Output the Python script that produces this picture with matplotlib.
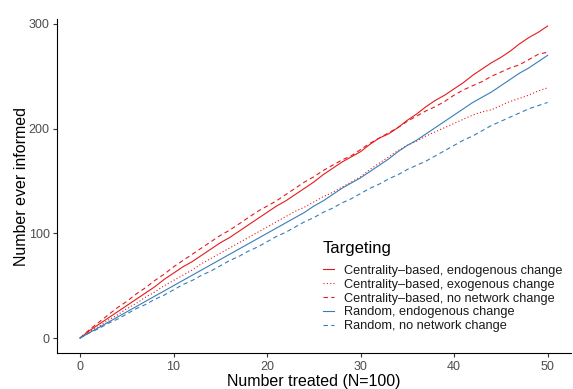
import matplotlib
matplotlib.use("Agg")
import matplotlib.pyplot as plt
import numpy as np

plt.rcParams['font.family'] = ['Liberation Sans', 'DejaVu Sans']

x = list(range(0, 51))
cent_endo = [0,7,13,19,25,31,37,43,49,56,62,68,73,79,85,91,96,102,108,114,120,126,131,137,143,149,
             156,162,168,173,178,185,191,195,201,208,214,221,227,232,238,244,251,257,263,268,274,281,287,292,298]
cent_exo = [0,6,11,17,22,28,33,39,44,50,55,60,65,71,76,81,86,91,96,101,106,111,116,121,125,130,
            135,139,144,149,154,161,167,173,179,184,188,193,197,201,205,209,213,216,218,222,226,229,232,236,239]
cent_none = [0,8,15,22,29,35,42,48,55,61,68,74,80,86,92,98,103,109,115,121,126,131,137,143,149,154,
             160,165,170,174,180,186,191,196,201,207,212,217,221,226,232,237,241,245,250,254,258,261,266,271,273]
rand_endo = [0,5,10,15,20,25,30,35,40,45,50,55,60,65,70,75,80,85,90,95,100,105,110,115,120,126,
             131,137,143,148,153,159,165,171,178,184,189,195,201,207,213,219,225,230,235,241,247,253,258,264,270]
rand_none = [0,5,9,14,18,23,28,32,37,41,46,51,55,60,64,69,74,78,83,87,92,97,101,106,111,115,
             120,124,129,133,138,143,147,152,156,161,165,169,174,179,184,189,193,198,203,207,211,215,219,222,225]

labels = ["Centrality\u2013based, endogenous change",
          "Centrality\u2013based, exogenous change",
          "Centrality\u2013based, no network change",
          "Random, endogenous change",
          "Random, no network change"]

red = "#E41A1C"
blue = "#377EB8"

fig = plt.figure(figsize=(5.73, 3.89), dpi=100)
ax = fig.add_axes([57.3/573, 1 - 353/389, (571 - 57.3)/573, (353 - 19)/389])

lw = 0.8
ax.plot(x, cent_endo, color=red, lw=lw, ls='-', label=labels[0])
ax.plot(x, cent_exo, color=red, lw=lw, ls=(0, (1, 2)), label=labels[1])
ax.plot(x, cent_none, color=red, lw=lw, ls=(0, (4, 3)), label=labels[2])
ax.plot(x, rand_endo, color=blue, lw=lw, ls='-', label=labels[3])
ax.plot(x, rand_none, color=blue, lw=lw, ls=(0, (4, 3)), label=labels[4])

ax.set_xlim(-2.43, 52.5)
ax.set_ylim(-14.3, 304.7)
ax.set_xticks([0, 10, 20, 30, 40, 50])
ax.set_yticks([0, 100, 200, 300])
for s in ['top', 'right']:
    ax.spines[s].set_visible(False)
for s in ['left', 'bottom']:
    ax.spines[s].set_color('black')
    ax.spines[s].set_linewidth(0.8)
ax.tick_params(axis='both', colors='#333333', labelcolor='#4D4D4D', labelsize=9, length=3, width=0.8, pad=2.5)

ax.set_xlabel("Number treated (N=100)", fontsize=11.5, labelpad=1)
ax.set_ylabel("Number ever informed", fontsize=11.5, labelpad=0)

leg = ax.legend(loc='upper left', bbox_to_anchor=(323/573, 1 - 241/389), bbox_transform=fig.transFigure,
                frameon=False, fontsize=9.2, title="Targeting", title_fontsize=12,
                handlelength=0.85, handletextpad=0.8, labelspacing=0.15, borderaxespad=0,
                borderpad=0)
leg._legend_box.align = "left"
leg._legend_box.sep = 6.3
for t in leg.get_texts():
    t.set_color('#1A1A1A')

fig.savefig("out.png", dpi=100)
